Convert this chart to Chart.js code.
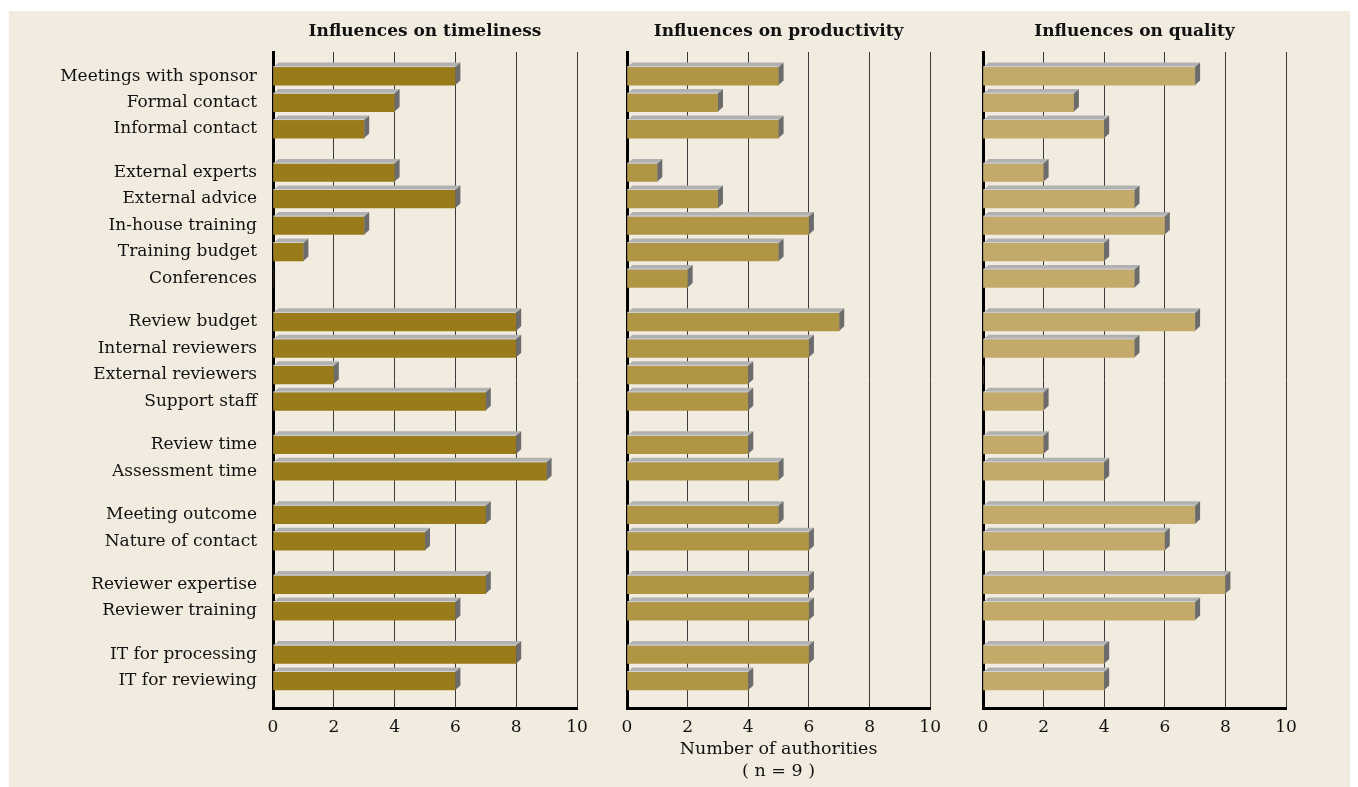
<!DOCTYPE html>
<html>
<head>
<meta charset="utf-8">
<script src="https://cdn.jsdelivr.net/npm/chart.js@4.4.1/dist/chart.umd.min.js"></script>
<style>
  html, body { margin: 0; padding: 0; background: #ffffff; }
  #page { position: relative; width: 1358px; height: 787px; overflow: hidden; }
  #panel { position: absolute; left: 9px; top: 11px; width: 1341px; height: 776px; background: #f2ece0; }
  canvas { position: absolute; top: 0; }
</style>
</head>
<body>
<div id="page">
  <div id="panel"></div>
  <canvas id="chartTime" style="left:0px" width="600" height="787"></canvas>
  <canvas id="chartProd" style="left:600px" width="350" height="787"></canvas>
  <canvas id="chartQual" style="left:950px" width="408" height="787"></canvas>
</div>
<script>
const categories = [
    'Meetings with sponsor', 'Formal contact', 'Informal contact',
    'External experts', 'External advice', 'In-house training', 'Training budget', 'Conferences',
    'Review budget', 'Internal reviewers', 'External reviewers', 'Support staff',
    'Review time', 'Assessment time',
    'Meeting outcome', 'Nature of contact',
    'Reviewer expertise', 'Reviewer training',
    'IT for processing', 'IT for reviewing'
];
const groups = [0, 0, 0, 1, 1, 1, 1, 1, 2, 2, 2, 2, 3, 3, 4, 4, 5, 5, 6, 6];
const timeliness = [6, 4, 3, 4, 6, 3, 1, 0, 8, 8, 2, 7, 8, 9, 7, 5, 7, 6, 8, 6];
const productivity = [5, 3, 5, 1, 3, 6, 5, 2, 7, 6, 4, 4, 4, 5, 5, 6, 6, 6, 6, 4];
const quality = [7, 3, 4, 2, 5, 6, 4, 5, 7, 5, 0, 2, 2, 4, 7, 6, 8, 7, 4, 4];
const xTicks = [0, 2, 4, 6, 8, 10];

// extra space between the groups, in rows
const groupGap = 0.64;
const rowPos = categories.map((c, i) => i + groupGap * groups[i]);

const serif = "'DejaVu Serif', serif";

// draws the grey top and side faces of each bar
const bevelPlugin = {
    id: 'bevel',
    afterDatasetsDraw(chart) {
        const ctx = chart.ctx;
        const dx = 5, dy = 4.5;
        chart.getDatasetMeta(0).data.forEach((bar, i) => {
            if (!chart.data.datasets[0].data[i].x) return;
            const top = bar.y - bar.height / 2;
            const bottom = bar.y + bar.height / 2;
            ctx.save();
            ctx.fillStyle = '#b1b1b1';
            ctx.beginPath();
            ctx.moveTo(bar.base, top);
            ctx.lineTo(bar.base + dx, top - dy);
            ctx.lineTo(bar.x + dx, top - dy);
            ctx.lineTo(bar.x, top);
            ctx.closePath();
            ctx.fill();
            ctx.fillStyle = '#d2d2d2';
            ctx.fillRect(bar.base, top - 1, bar.x - bar.base, 1);
            ctx.fillStyle = '#6c6c6c';
            ctx.beginPath();
            ctx.moveTo(bar.x, top);
            ctx.lineTo(bar.x + dx, top - dy);
            ctx.lineTo(bar.x + dx, bottom - dy);
            ctx.lineTo(bar.x, bottom);
            ctx.closePath();
            ctx.fill();
            ctx.restore();
        });
    }
};

function makeChart(id, title, values, color, opts) {
    return new Chart(document.getElementById(id), {
        type: 'bar',
        data: {
            datasets: [{
                data: values.map((v, i) => ({ x: v, y: rowPos[i] })),
                backgroundColor: color,
                borderWidth: 0,
                barThickness: 18
            }]
        },
        plugins: [bevelPlugin],
        options: {
            responsive: false,
            animation: false,
            indexAxis: 'y',
            layout: { padding: { left: opts.padLeft, right: opts.padRight, top: 0, bottom: 0 } },
            plugins: {
                legend: { display: false },
                tooltip: { enabled: false },
                title: {
                    display: true,
                    text: title,
                    fullSize: false,
                    color: '#111111',
                    font: { family: serif, size: 17, weight: 'bold', lineHeight: '20px' },
                    padding: { top: 22, bottom: 10 }
                }
            },
            scales: {
                x: {
                    type: 'linear',
                    min: 0,
                    max: 10,
                    afterBuildTicks: (scale) => { scale.ticks = xTicks.map(v => ({ value: v })); },
                    afterFit: (scale) => { scale.height = 79; },
                    grid: { color: '#3a3a3a', lineWidth: 1, drawTicks: false },
                    border: { display: true, color: '#000000', width: 3 },
                    ticks: { color: '#111111', padding: 9, font: { family: serif, size: 17 } },
                    title: {
                        display: !!opts.axisTitle,
                        text: opts.axisTitle || '',
                        color: '#111111',
                        font: { family: serif, size: 17.5, lineHeight: '22px' },
                        padding: { top: 0, bottom: 5 }
                    }
                },
                y: {
                    type: 'linear',
                    reverse: true,
                    offset: false,
                    min: -0.91,
                    max: 23.86,
                    afterBuildTicks: (scale) => { scale.ticks = rowPos.map(v => ({ value: v })); },
                    afterFit: (scale) => { scale.width = opts.yWidth; },
                    grid: { display: false, offset: false },
                    border: { display: true, color: '#000000', width: 3 },
                    ticks: {
                        display: opts.showLabels,
                        autoSkip: false,
                        color: '#111111',
                        padding: 8,
                        font: { family: serif, size: 17 },
                        callback: (val, idx) => categories[idx]
                    }
                }
            }
        }
    });
}

makeChart('chartTime', 'Influences on timeliness', timeliness, '#9a7b19',
    { padLeft: 0, padRight: 23, yWidth: 273, showLabels: true });
makeChart('chartProd', 'Influences on productivity', productivity, '#b09545',
    { padLeft: 27, padRight: 19, yWidth: 0, showLabels: false,
      axisTitle: ['Number of authorities', '( n = 9 )'] });
makeChart('chartQual', 'Influences on quality', quality, '#c4aa6a',
    { padLeft: 33, padRight: 72, yWidth: 0, showLabels: false });
</script>
</body>
</html>
